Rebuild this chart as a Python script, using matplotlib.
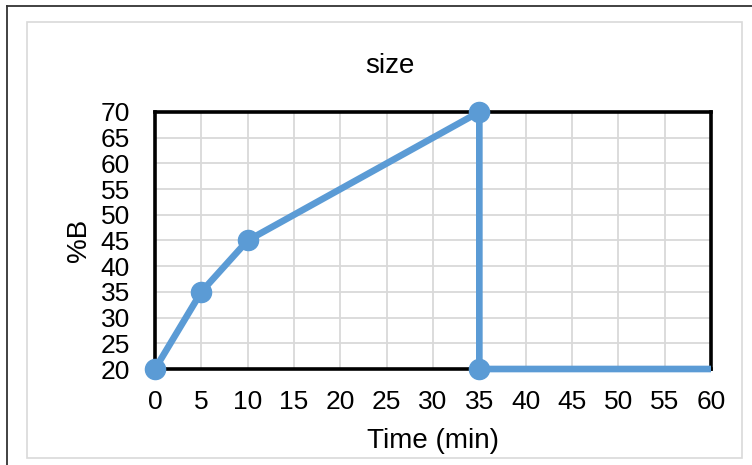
import matplotlib.pyplot as plt
from matplotlib.patches import Rectangle
from matplotlib.lines import Line2D

plt.rcParams['font.family'] = ['Liberation Sans', 'DejaVu Sans']

# gradient program: time (min) vs %B
time_min = [0, 5, 10, 35, 35, 60]
pct_b = [20, 35, 45, 70, 20, 20]
x_ticks = list(range(0, 61, 5))
y_ticks = list(range(20, 71, 5))

W, H = 752, 465
fig = plt.figure(figsize=(W / 100, H / 100), dpi=100)

# outer frame (left and top edges) and the light chart-area border
fig.add_artist(Line2D([7 / W, 7 / W], [0, 1 - 6 / H], color='#333333', lw=1.3))
fig.add_artist(Line2D([7 / W, 1], [1 - 6 / H, 1 - 6 / H], color='#333333', lw=1.3))
fig.add_artist(Rectangle((27 / W, 1 - 458 / H), (742 - 27) / W, (458 - 22) / H,
                         fill=False, edgecolor='#D9D9D9', lw=1.2))

ax = fig.add_axes([155 / W, 1 - 369 / H, (711 - 155) / W, (369 - 112) / H])
ax.set_xlim(0, 60)
ax.set_ylim(20, 70)
ax.set_xticks(x_ticks)
ax.set_yticks(y_ticks)
ax.grid(True, color='#D9D9D9', lw=1.3)
ax.set_axisbelow(True)
for s in ax.spines.values():
    s.set_linewidth(2.6)
    s.set_color('black')
ax.tick_params(axis='x', length=0, labelsize=19, pad=15)
ax.tick_params(axis='y', length=0, labelsize=19, pad=18)

ax.plot(time_min, pct_b, color='#5B9BD5', lw=4.8, solid_capstyle='butt',
        clip_on=False, zorder=3)
ax.plot(time_min[:-1], pct_b[:-1], 'o', color='#5B9BD5', ms=14.5,
        clip_on=False, zorder=4)

# title is centred on the whole chart area, not the plot box
ax.set_title('size', fontsize=20, pad=28, x=(390 - 155) / (711 - 155))
ax.set_xlabel('Time (min)', fontsize=20, labelpad=10)
ax.set_ylabel('%B', fontsize=20, labelpad=6)

fig.savefig('out.png', dpi=100)
